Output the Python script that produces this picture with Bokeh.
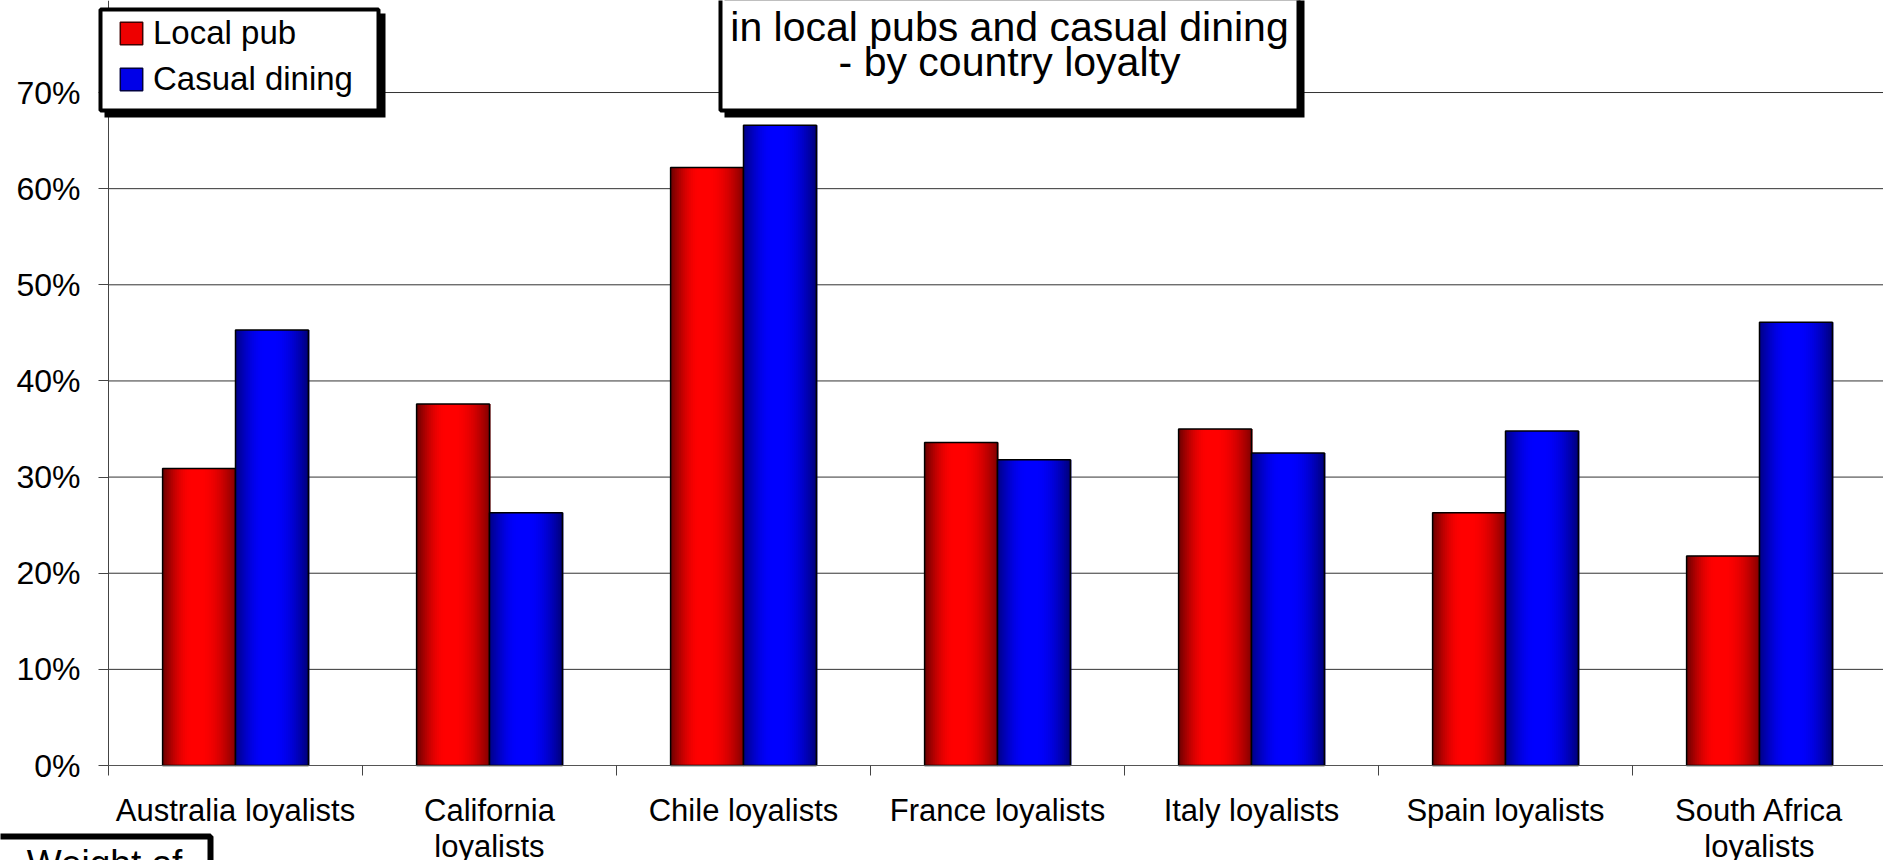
import numpy as np
from bokeh.plotting import figure
from bokeh.models import (ColumnDataSource, Range1d, FixedTicker, PrintfTickFormatter,
                          BoxAnnotation, Label, Legend, LegendItem)
from bokeh.embed import file_html
from bokeh.resources import INLINE

# --- data ---------------------------------------------------------------
categories = ["Australia loyalists", "California\nloyalists", "Chile loyalists",
              "France loyalists", "Italy loyalists", "Spain loyalists",
              "South Africa\nloyalists"]
local_pub = [30.9, 37.6, 62.2, 33.6, 35.0, 26.3, 21.8]
casual_dining = [45.3, 26.3, 66.6, 31.8, 32.5, 34.8, 46.1]
y_tick_values = [0, 10, 20, 30, 40, 50, 60, 70]
series_labels = ["Local pub", "Casual dining"]
title_lines = ["in local pubs and casual dining", "- by country loyalty"]
footer_text = "Weight of"

# --- layout (pixels) ----------------------------------------------------
# The plot frame covers the whole canvas; axes sit at fixed data locations
# so the boxes around the chart can overlap the axis area.
W, H = 1883, 860
AXIS_X = 108          # canvas x of the value axis
AXIS_Y = 765          # canvas y of the category axis
PX_PER_CAT = 254.0
PX_PER_PCT = 9.614
BAR_W = 0.287
FONT = "Liberation Sans"


def xd(px):
    """canvas x pixel -> data x"""
    return (px - AXIS_X) / PX_PER_CAT


def yd(py):
    """canvas y pixel -> data y"""
    return (AXIS_Y - py) / PX_PER_PCT


X_END = xd(W)
Y_TOP = yd(0)

# --- horizontal shading of each bar (dark edges, bright centre) ---------
N_STRIPS = 36
t_mid = (np.arange(N_STRIPS) + 0.5) / N_STRIPS


def brightness(t, lo_left, lo_right, peak=0.46, half=0.06):
    if t < peak - half:
        u = t / (peak - half)
        return lo_left + (1 - lo_left) * np.sin(u * np.pi / 2)
    if t > peak + half:
        u = (1 - t) / (1 - peak - half)
        return lo_right + (1 - lo_right) * np.sin(u * np.pi / 2) ** 0.9
    return 1.0


def to_hex(r, g, b):
    return "#%02x%02x%02x" % (int(round(r)), int(round(g)), int(round(b)))


red_shades = [to_hex(255 * brightness(t, 0.42, 0.50), 0, 0) for t in t_mid]
blue_shades = [to_hex(0, 0, 255 * brightness(t, 0.52, 0.46)) for t in t_mid]

n_cat = len(categories)
centers = np.arange(n_cat) + 0.5
bar_left = {0: centers - BAR_W, 1: centers}
strip_w = BAR_W / N_STRIPS


def strip_source(values, side, shades):
    xs, tops, cols = [], [], []
    for i, v in enumerate(values):
        for k in range(N_STRIPS):
            # strips overlap slightly so no seams show between them
            xs.append(bar_left[side][i] + t_mid[k] * BAR_W + 0.25 * strip_w)
            tops.append(v)
            cols.append(shades[k])
    return ColumnDataSource(dict(x=xs, top=tops, color=cols))


p = figure(width=W, height=H, x_range=Range1d(xd(0), X_END), y_range=Range1d(yd(H), Y_TOP),
           output_backend="svg", toolbar_location=None,
           min_border_left=0, min_border_right=0, min_border_top=0, min_border_bottom=0,
           background_fill_color="white", border_fill_color="white",
           outline_line_color=None)

# horizontal gridlines at the value ticks
grid_y = [v for v in y_tick_values if v > 0]
p.segment(x0=[0] * len(grid_y), x1=[X_END + 1] * len(grid_y), y0=grid_y, y1=grid_y,
          line_color="#333333", line_width=1)

# bars: shaded strips, then a black outline per bar
for side, (vals, shades) in enumerate([(local_pub, red_shades), (casual_dining, blue_shades)]):
    p.vbar(x="x", top="top", width=strip_w * 1.5, source=strip_source(vals, side, shades),
           fill_color="color", line_color=None)
    p.vbar(x=centers + (BAR_W / 2 if side else -BAR_W / 2), top=vals, width=BAR_W,
           fill_color=None, line_color="black", line_width=1.5)

# legend swatches (renderers with no drawable rows, only shown in the legend)
nan_row = np.array([np.nan])
leg_red = p.vbar(x=nan_row, top=nan_row, width=0.1, fill_color="#ee0000",
                 line_color="#400000", line_width=1.5)
leg_blue = p.vbar(x=nan_row, top=nan_row, width=0.1, fill_color="#0000e8",
                  line_color="#000040", line_width=1.5)

# --- axes ----------------------------------------------------------------
xa = p.xaxis[0]
xa.fixed_location = 0
xa.bounds = (0, X_END + 1)
xa.ticker = FixedTicker(ticks=list(centers), minor_ticks=list(range(n_cat + 1)))
xa.major_label_overrides = {float(c): lab for c, lab in zip(centers, categories)}
xa.major_tick_out = 0
xa.major_tick_in = 0
xa.minor_tick_out = 10
xa.minor_tick_in = 0
xa.minor_tick_line_color = "#444444"
xa.axis_line_color = "#555555"
xa.major_label_text_font = FONT
xa.major_label_text_font_size = "31px"
xa.major_label_text_color = "black"
xa.major_label_text_line_height = 1.03
xa.major_label_standoff = 17

ya = p.yaxis[0]
ya.fixed_location = 0
ya.bounds = (0, Y_TOP)
ya.ticker = FixedTicker(ticks=y_tick_values)
ya.formatter = PrintfTickFormatter(format="%d%%")
ya.major_tick_out = 10
ya.major_tick_in = 0
ya.minor_tick_out = 0
ya.minor_tick_in = 0
ya.major_tick_line_color = "#444444"
ya.axis_line_color = "#444444"
ya.major_label_text_font = FONT
ya.major_label_text_font_size = "32px"
ya.major_label_text_color = "black"
ya.major_label_standoff = 18

p.xgrid.visible = False
p.ygrid.visible = False

# --- legend: framed box with drop shadow, items on top ----------------------
p.add_layout(BoxAnnotation(left=xd(104), right=xd(385), top=yd(13), bottom=yd(117),
                           fill_color="black", fill_alpha=1, line_color=None))
p.add_layout(BoxAnnotation(left=xd(100), right=xd(378), top=yd(9), bottom=yd(110),
                           fill_color="white", fill_alpha=1,
                           line_color="black", line_alpha=1, line_width=4))
legend = Legend(items=[LegendItem(label=series_labels[0], renderers=[leg_red]),
                       LegendItem(label=series_labels[1], renderers=[leg_blue])],
                location=(117, H - 98),
                border_line_color=None, background_fill_alpha=0,
                label_text_font=FONT, label_text_font_size="33px", label_text_color="black",
                glyph_width=28, glyph_height=28, label_standoff=8, label_width=200,
                label_height=38, padding=4, spacing=8, margin=0)
p.add_layout(legend)

# --- title box with drop shadow -------------------------------------------
p.add_layout(BoxAnnotation(left=xd(724), right=xd(1304), top=yd(-60), bottom=yd(117),
                           fill_color="black", fill_alpha=1, line_color=None))
p.add_layout(BoxAnnotation(left=xd(720), right=xd(1298), top=yd(-60), bottom=yd(110),
                           fill_color="white", fill_alpha=1,
                           line_color="black", line_alpha=1, line_width=4))
for line, base in zip(title_lines, [26, 61]):
    p.add_layout(Label(x=xd(1009), y=yd(base), text=line, text_align="center",
                       text_baseline="alphabetic", text_font=FONT, text_font_size="41px",
                       text_color="black"))

# --- lower-left caption box ------------------------------------------------
p.add_layout(BoxAnnotation(left=xd(-40), right=xd(210), top=yd(836), bottom=yd(940),
                           fill_color="white", fill_alpha=1,
                           line_color="black", line_alpha=1, line_width=6))
p.add_layout(Label(x=xd(104), y=yd(842), text=footer_text, text_align="center",
                   text_baseline="top", text_font=FONT, text_font_size="37px",
                   text_color="black"))

open("out.html", "w").write(file_html(p, INLINE))
